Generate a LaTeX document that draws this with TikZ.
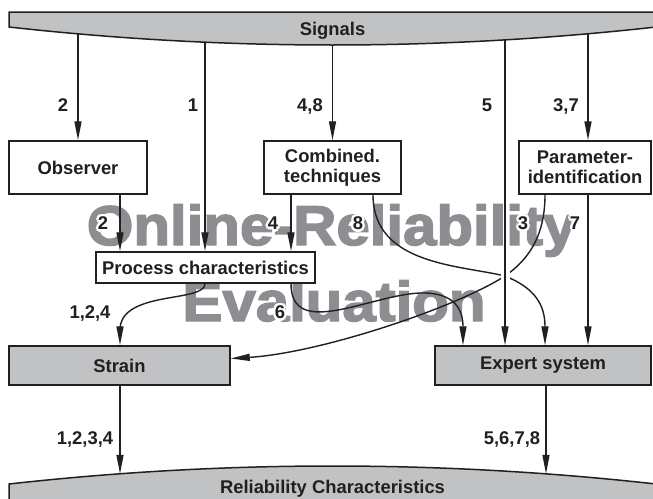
\documentclass[tikz,border=0pt]{standalone}
\usepackage{fontspec}
\setmainfont{Liberation Sans}
\newfontfamily\heavyfamily{Liberation Sans Bold}[FakeBold=2.6]
\usetikzlibrary{arrows.meta,calc}

\definecolor{ink}{RGB}{35,31,32}
\definecolor{panel}{RGB}{193,194,196}
\definecolor{markgray}{RGB}{141,142,146}

\newcommand\lbfont{\fontsize{18.4}{20.5}\selectfont\bfseries}
\newcommand\wmfont{\fontsize{56}{60}\selectfont\heavyfamily}

\tikzset{
  box/.style={draw=ink, line width=1.5pt, fill=white, align=center,
              inner sep=0pt, font=\lbfont, text=ink},
  graybox/.style={box, fill=panel},
  band/.style={draw=ink, line width=1.5pt, fill=panel},
  conn/.style={draw=ink, line width=1.4pt,
               -{Triangle[length=19pt,width=7pt]}},
  lbl/.style={font=\lbfont, text=ink, inner sep=0pt,
              text height=13.2pt, text depth=0pt},
  wm/.style={font=\wmfont, text=markgray, inner sep=0pt, anchor=base},
}

% digit label with a white outline so it stays legible over the watermark
\newcommand\halolabel[3]{%
  \foreach \ang in {0,45,...,315}
    \node[lbl,text=white] at ($(#2)+(\ang:2.6)$) {#3};
  \node[lbl] (#1) at (#2) {#3};}

\begin{document}
\begin{tikzpicture}[x=1pt,y=-1pt]
\useasboundingbox (0,0) rectangle (653,498);
\fill[white] (0,0) rectangle (653,498);

% ---- watermark -------------------------------------------------------
\node[wm] (wm1) at (331.5,245) {\scalebox{1.07}[1]{Online-Reliability}};
\node[wm] (wm2) at (334,321)   {\scalebox{1.07}[1]{Evaluation}};

% ---- input and output bands -------------------------------------------
\path[band] (9,12) -- (656,12) -- (656,27)
  .. controls (440.3,51) and (224.7,51) .. (9,27) -- cycle;
\node[lbl] (sig) at (332.5,29) {Signals};

\path[band] (9,505) -- (9,484)
  .. controls (224.7,460) and (440.3,460) .. (656,484) -- (656,505) -- cycle;
\node[lbl] (rel) at (332.5,487) {Reliability Characteristics};

% points on the band edges
\coordinate (s1) at (78,33.9);
\coordinate (s2) at (205,42.2);
\coordinate (s3) at (332.5,45);
\coordinate (s4) at (505,39.9);
\coordinate (s5) at (588,33.8);
\coordinate (r1) at (120,473.8);
\coordinate (r2) at (546,473.8);

% columns used by the vertical connectors
\coordinate (colA) at (120,0);
\coordinate (colB) at (205,0);
\coordinate (colC) at (291,0);
\coordinate (colD) at (373,0);
\coordinate (colE) at (463,0);
\coordinate (colG) at (545,0);

% ---- blocks -----------------------------------------------------------
\node[box, minimum width=138pt, minimum height=53pt] (obs)   at (78,167.5)   {Observer};
\node[box, minimum width=137pt, minimum height=53pt] (comb)  at (332.5,167.5) {Combined.\\techniques};
\node[box, minimum width=132pt, minimum height=53pt] (param) at (585,167.5)  {Parameter-\\identification};
\node[box, minimum width=219pt, minimum height=31pt] (proc)  at (205.5,267.5) {Process characteristics};
\node[graybox, minimum width=221pt, minimum height=39pt] (strain) at (119.5,365.5) {Strain};
\node[graybox, minimum width=216pt, minimum height=39pt] (expert) at (543,365.5)  {Expert system};

% ---- labels -----------------------------------------------------------
\node[lbl] (t2)  at (63,105)  {2};
\node[lbl] (t1)  at (193,105) {1};
\node[lbl] (t48) at (310,105) {4,8};
\node[lbl] (t5)  at (487,105) {5};
\node[lbl] (t37) at (566,105) {3,7};

\halolabel{m2}{103,223}{2}
\halolabel{m4}{273,223}{4}
\halolabel{m8}{358,223}{8}
\halolabel{m3}{523,223}{3}
\halolabel{m7}{575,223}{7}
\halolabel{m6}{280,312}{6}

\node[lbl] (t124)  at (90,312)  {1,2,4};
\node[lbl] (t1234) at (85,438)  {1,2,3,4};
\node[lbl] (t5678) at (512,438) {5,6,7,8};

% ---- connectors -------------------------------------------------------
\draw[conn] (s1) -- (obs.north);
\draw[conn] (s2) -- (s2 |- proc.north);
\draw[conn] (s3) -- (comb.north);
\draw[conn] (s5) -- (s5 |- param.north);

\draw[conn] (obs.south -| colA) -- (proc.north -| colA);
\draw[conn] (comb.south -| colC) -- (proc.north -| colC);
\draw[conn] (s5 |- param.south) -- (s5 |- expert.north);

% combined techniques -> expert system
\draw[conn] (comb.south -| colD)
  .. controls (373,265) and (460,265) .. (505,276)
  .. controls (535,288) and (545,305) .. (expert.north -| colG);
% parameter identification -> strain
\draw[conn] (param.south -| colG)
  .. controls (545,240) and (525,262) .. (505,276)
  .. controls (455,308) and (320,353) .. ($(strain.east)+(0,-7)$);
% process characteristics -> strain
\draw[conn] (proc.south -| colB)
  .. controls (205,303) and (120,290) .. (120,330) -- (strain.north -| colA);
% process characteristics -> expert system
\draw[conn] (proc.south -| colC)
  .. controls (291,340) and (370,295) .. (420,293)
  .. controls (455,292) and (463,310) .. (expert.north -| colE);

% the two crossing curves pass behind the signal line 5
\draw[white, line width=9pt] (505,265) -- (505,288);
\draw[conn] (s4) -- (s4 |- expert.north);

\draw[conn] (strain.south -| colA) -- (r1);
\draw[conn] (expert.south -| r2) -- (r2);
\end{tikzpicture}
\end{document}
